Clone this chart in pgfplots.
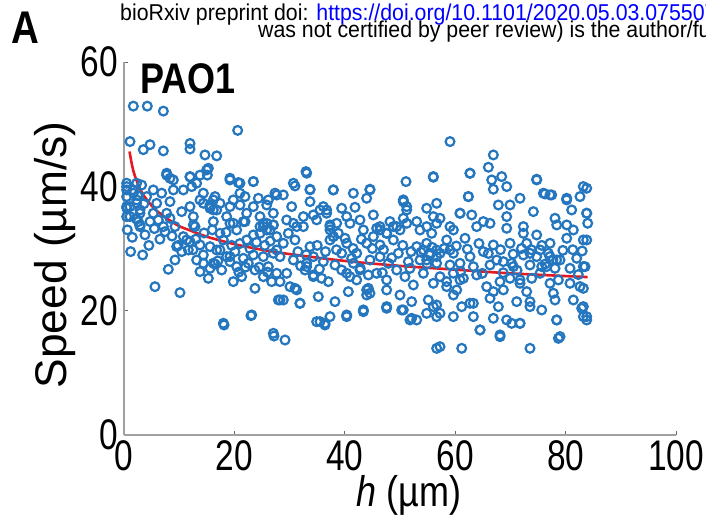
\documentclass[border=0pt]{standalone}
\usepackage{pgfplots}
\pgfplotsset{compat=1.18}
\usepackage{fontspec}
\setmainfont[FakeStretch=0.84]{Liberation Sans}
\newfontfamily\plainsans{Liberation Sans}
\newfontfamily\ticksfont[FakeStretch=0.78]{Liberation Sans}
\newfontfamily\headfont[FakeStretch=0.93]{Liberation Sans}
\definecolor{dotblue}{RGB}{36,118,190}
\definecolor{fitred}{RGB}{228,26,32}
\definecolor{axgray}{RGB}{160,160,160}
\begin{document}
\begin{tikzpicture}
\useasboundingbox (0,0) rectangle (706bp,521bp);
\clip (0,0) rectangle (706bp,521bp);
\fill[white] (0,0) rectangle (706bp,521bp);
\node[anchor=base west, inner sep=0pt, font=\headfont\fontsize{23}{23}\selectfont] at (120bp,500bp) {bioRxiv preprint doi: \textcolor{blue}{https://doi.org/10.1101/2020.05.03.075507}; this version posted May 5, 2020.};
\node[anchor=base west, inner sep=0pt, font=\headfont\fontsize{23}{23}\selectfont] at (258bp,483bp) {was not certified by peer review) is the author/funder, who has granted bioRxiv a license};
\node[anchor=north west, inner sep=0pt, font=\bfseries\fontsize{46}{46}\selectfont] at (11bp,509bp) {A};
\begin{axis}[
  at={(124bp,86bp)}, anchor=south west,
  scale only axis, width=552bp, height=373bp,
  xmin=0, xmax=100, ymin=0, ymax=60,
  xtick={0,20,40,60,80,100}, ytick={0,20,40,60},
  axis x line=bottom, axis y line=left,
  axis line style={-, axgray, line width=1.6bp},
  tick align=inside, major tick length=4bp,
  tick style={black!60, line width=0.8bp},
  clip=false,
  /pgf/number format/assume math mode=true,
  ticklabel style={font=\ticksfont\fontsize{43}{43}\selectfont, inner sep=0pt},
  xticklabel style={anchor=north, yshift=-5bp},
  yticklabel style={anchor=east, xshift=-6bp},
  xlabel={\textit{h} (µm)},
  xlabel style={font=\fontsize{43}{43}\selectfont, at={(axis description cs:0.516,-0.163)}, anchor=center, inner sep=0pt},
  ylabel={Speed (µm/s)},
  ylabel style={font=\plainsans\fontsize{44.5}{44.5}\selectfont, at={(axis description cs:-0.125,0.483)}, anchor=center, inner sep=0pt, rotate=0},
]
\addplot[only marks, mark=o, mark size=4.4bp, dotblue, mark options={line width=2.2bp}] table {
x y
1.69 52.9
4.22 52.9
7.13 52.1
20.59 49.0
1.09 47.2
3.50 45.9
4.71 46.7
7.13 45.7
11.96 46.9
11.96 46.0
14.67 45.05
16.79 44.9
15.28 42.9
15.10 41.8
7.73 41.8
8.33 41.3
11.96 41.5
13.77 41.8
19.20 41.3
20.71 40.6
23.43 40.76
27.35 38.9
0.48 39.96
1.69 39.42
3.20 40.2
5.31 39.42
6.82 38.9
8.94 39.42
10.75 39.42
12.26 39.96
14.37 38.9
16.49 38.35
17.39 37.27
19.80 37.81
21.92 38.35
24.34 38.08
26.15 37.81
27.66 38.6
0.48 38.35
2.29 37.81
4.10 38.35
5.92 37.27
8.33 37.54
11.96 36.74
13.77 37.81
15.58 37.0
19.20 36.74
21.01 37.0
23.43 36.74
25.85 37.0
1.09 36.74
2.90 36.2
5.31 35.67
7.73 35.67
10.45 35.93
12.56 35.13
15.58 36.47
16.18 36.2
18.60 35.13
22.22 35.67
24.64 35.13
27.05 35.67
0.48 35.13
2.60 34.33
4.71 34.33
8.33 34.86
12.56 33.79
16.18 34.33
19.80 34.06
21.62 34.33
25.24 34.06
27.05 33.79
2.90 33.52
7.13 33.52
2.90 33.79
6.22 34.59
7.43 32.71
9.24 33.52
12.86 33.52
10.75 31.91
11.96 31.1
13.77 30.57
15.58 30.3
17.39 32.44
17.99 31.37
19.20 34.05
20.41 32.98
21.92 34.32
22.22 31.37
23.43 32.18
24.64 33.52
25.85 32.98
27.05 33.79
27.66 31.91
27.66 29.76
3.38 28.96
10.45 29.5
11.66 29.76
14.37 28.96
16.79 29.76
18.60 28.69
20.11 29.5
21.62 28.42
23.43 28.96
25.24 28.69
27.05 29.23
9.24 28.15
13.16 28.15
14.37 27.62
15.58 26.81
17.69 26.54
19.20 27.89
20.41 27.08
22.52 27.62
23.73 26.54
26.15 27.08
27.66 26.01
8.03 26.65
13.77 26.28
15.28 25.2
19.80 24.67
21.32 25.47
23.73 23.59
25.24 25.47
26.75 24.67
27.96 21.72
5.61 23.86
10.14 22.9
18.12 17.7
23.00 19.2
27.17 15.92
13.0 31.5
14.5 32.5
16.0 33.0
18.5 32.6
19.5 30.5
21.0 30.8
22.8 30.0
24.0 31.0
25.5 30.5
26.5 31.2
12.5 29.8
17.0 28.0
20.8 26.2
22.0 27.0
24.5 27.0
26.0 26.2
16.5 27.5
9.8 30.5
8.7 32.0
6.5 31.5
0.6 33.0
1.5 31.8
2.2 34.8
3.8 32.2
4.5 30.5
5.5 33.2
1.2 29.5
0.5 36.5
2.5 38.5
3.6 37.2
32.97 42.37
30.98 40.06
33.70 39.53
37.92 39.42
44.56 39.53
51.09 40.76
56.04 41.46
28.86 38.62
30.37 36.74
33.70 37.54
36.11 36.74
39.43 36.47
41.85 36.63
43.96 38.08
50.60 37.54
51.21 36.2
54.83 36.47
56.64 37.27
29.47 34.59
32.49 35.13
34.30 35.4
36.71 36.2
40.34 35.13
42.75 34.59
45.17 35.4
48.19 34.33
50.60 34.86
53.02 34.33
56.04 35.13
31.28 33.52
37.32 33.79
46.38 33.52
54.83 33.52
30.68 34.05
32.49 33.52
37.32 33.52
38.83 32.44
40.94 34.05
43.36 32.98
45.77 33.25
47.58 32.44
49.40 33.52
51.21 34.05
53.62 32.98
55.74 32.44
56.64 34.05
37.92 31.91
40.03 31.64
28.86 30.84
30.98 31.37
33.70 30.3
37.32 31.37
40.34 30.84
43.96 30.84
46.38 30.57
48.79 31.37
53.02 30.3
54.83 30.84
56.64 29.76
29.77 32.44
28.26 28.69
30.68 28.15
33.09 27.62
34.30 28.69
36.11 27.89
38.22 27.35
39.43 29.23
41.24 28.42
42.15 29.23
44.56 28.15
46.38 28.69
47.89 27.62
49.70 29.23
51.51 27.89
53.62 28.15
55.43 28.96
56.64 27.62
29.47 26.01
32.79 26.54
34.30 25.74
35.81 25.2
37.02 24.67
39.43 26.54
40.94 25.47
42.15 24.94
44.26 25.74
45.77 26.01
47.58 24.94
49.40 26.54
50.90 25.47
52.42 24.13
54.23 26.01
56.04 24.4
30.07 23.86
28.26 24.67
28.86 21.72
30.98 23.59
31.88 21.18
35.20 22.25
38.22 21.45
40.64 23.06
44.26 23.59
43.96 22.52
47.58 23.33
50.00 22.52
52.11 21.45
55.13 21.72
56.64 20.91
34.90 18.23
36.41 17.7
37.32 19.04
40.34 19.04
43.36 19.84
47.58 20.38
50.30 20.11
52.11 18.77
53.02 18.5
54.83 19.57
56.64 19.04
29.17 15.28
56.64 13.94
31.5 29.5
33.0 29.0
35.0 30.5
36.5 29.5
38.5 29.8
41.5 30.0
43.0 31.5
45.0 30.0
47.0 29.8
48.5 28.5
50.5 30.5
52.0 29.5
53.8 29.4
55.8 30.2
32.0 27.2
35.4 26.7
42.8 26.8
46.8 26.1
51.8 26.8
54.9 27.5
59.06 47.2
66.91 45.05
66.01 43.07
62.68 42.1
68.42 41.57
66.61 41.03
66.91 39.53
69.33 39.96
74.76 41.14
76.27 38.78
77.48 38.62
83.82 39.69
80.20 38.08
82.61 38.35
62.38 38.35
71.74 38.08
67.82 37.0
69.93 37.0
74.16 35.93
81.10 36.2
60.87 35.67
62.99 35.4
69.33 35.13
78.08 34.86
83.82 35.67
57.25 34.86
65.10 34.33
59.06 33.52
72.35 33.52
80.20 33.79
84.00 34.06
59.67 32.98
63.89 33.52
66.31 34.05
69.33 33.25
72.35 32.44
74.76 32.18
78.39 33.79
81.40 32.98
83.82 31.37
58.46 31.37
61.78 31.64
66.91 30.57
69.93 30.84
72.95 30.84
77.18 30.84
80.20 31.64
57.25 29.23
59.67 29.23
62.68 28.69
65.10 29.5
67.52 28.15
70.23 27.62
72.35 28.96
74.76 28.69
76.88 29.23
78.99 28.15
82.01 28.42
59.06 27.35
60.87 27.62
63.29 27.08
66.31 27.35
68.72 27.89
73.55 27.35
75.67 27.08
78.08 26.81
80.80 26.81
83.52 27.08
57.25 25.47
58.46 24.67
61.48 25.2
63.89 25.74
65.70 23.86
68.12 24.67
69.93 25.2
71.74 24.4
73.86 25.2
75.37 26.01
77.18 24.4
78.69 24.94
80.80 24.4
83.22 23.59
60.27 23.33
66.91 23.06
72.95 23.06
59.67 22.52
61.18 20.64
63.29 21.18
66.31 21.99
67.82 20.64
71.14 21.45
73.55 21.45
75.67 20.11
78.08 21.72
81.40 21.72
82.91 20.38
83.82 18.5
63.29 19.04
66.91 18.77
70.23 17.96
71.74 17.96
78.39 18.5
83.22 19.04
64.50 16.89
68.12 15.82
78.69 15.55
73.55 13.94
61.18 13.94
57.25 14.21
58.0 30.0
60.2 30.4
62.2 29.9
64.3 30.8
66.0 29.2
68.2 29.8
70.5 29.1
72.0 30.0
73.8 29.8
75.7 30.5
77.7 28.2
79.5 29.7
81.3 29.8
83.0 29.6
61.0 26.3
64.9 26.0
68.7 26.1
71.2 26.5
76.3 27.5
82.3 25.8
14.37 37.28
15.58 36.74
16.79 36.2
16.18 37.82
25.24 33.53
26.45 32.99
24.64 32.45
25.85 34.06
35.51 36.2
36.71 35.67
34.90 34.6
37.32 32.99
37.92 31.92
38.53 34.06
46.38 32.99
47.58 32.45
48.79 33.53
50.00 32.99
45.17 31.92
50.60 37.82
51.21 36.74
54.23 29.77
55.43 29.23
56.64 28.7
59.06 29.77
54.83 28.16
73.55 29.23
75.36 29.77
77.17 28.7
78.38 28.16
76.57 27.09
83.21 39.96
83.82 35.67
83.21 31.38
83.21 27.09
82.61 23.87
83.21 20.65
83.82 19.04
77.78 22.8
78.38 18.51
78.99 15.83
27.05 16.36
18.00 17.97
23.13 19.31
35.51 18.24
36.41 17.97
40.34 19.31
43.36 20.12
64.49 16.9
68.12 16.1
31.88 21.19
31.28 23.34
28.26 21.73
43.96 23.34
44.56 22.8
47.58 20.65
50.60 20.12
51.81 18.51
56.04 20.65
57.25 19.58
59.66 19.04
62.68 21.19
69.32 18.51
71.74 17.97
73.55 20.65
0.48 39.42
1.69 38.89
0.48 36.74
2.29 37.28
1.09 35.13
2.90 35.67
0.48 40.5
2.29 40.5
7.73 42.11
8.94 41.03
11.96 41.57
14.98 42.64
13.16 40.5
19.20 41.03
21.01 40.5
23.43 40.77
21.01 38.89
30.68 40.5
33.09 42.11
33.70 39.43
37.92 39.43
41.55 38.89
44.56 39.43
56.04 41.57
62.68 42.11
62.38 38.35
60.87 35.67
74.76 41.03
75.97 38.89
77.17 38.62
80.19 37.82
41.55 27.63
42.75 26.55
40.34 26.02
33.09 27.09
34.30 25.48
59.66 26.02
60.87 24.94
58.45 23.87
71.74 24.94
70.53 27.09
68.72 23.34
17.39 29.77
19.20 28.7
16.18 27.63
11.35 31.38
9.54 30.31
};
\addplot[fitred, line width=2.6bp, smooth] coordinates {
(1,45.6) (1.5,43.2) (2,41.6) (3,39.4) (4,38.0) (5,36.9) (6,36.0) (8,34.7) (10,33.6) (12,32.9) (15,31.9) (20,30.7) (25,29.8) (30,29.1) (40,28.0) (50,27.2) (60,26.6) (70,26.0) (84,25.4)
};
\node[anchor=north west, inner sep=0pt, font=\bfseries\fontsize{43}{43}\selectfont] at (rel axis cs:0.029,0.995) {PAO1};
\end{axis}
\end{tikzpicture}
\end{document}
